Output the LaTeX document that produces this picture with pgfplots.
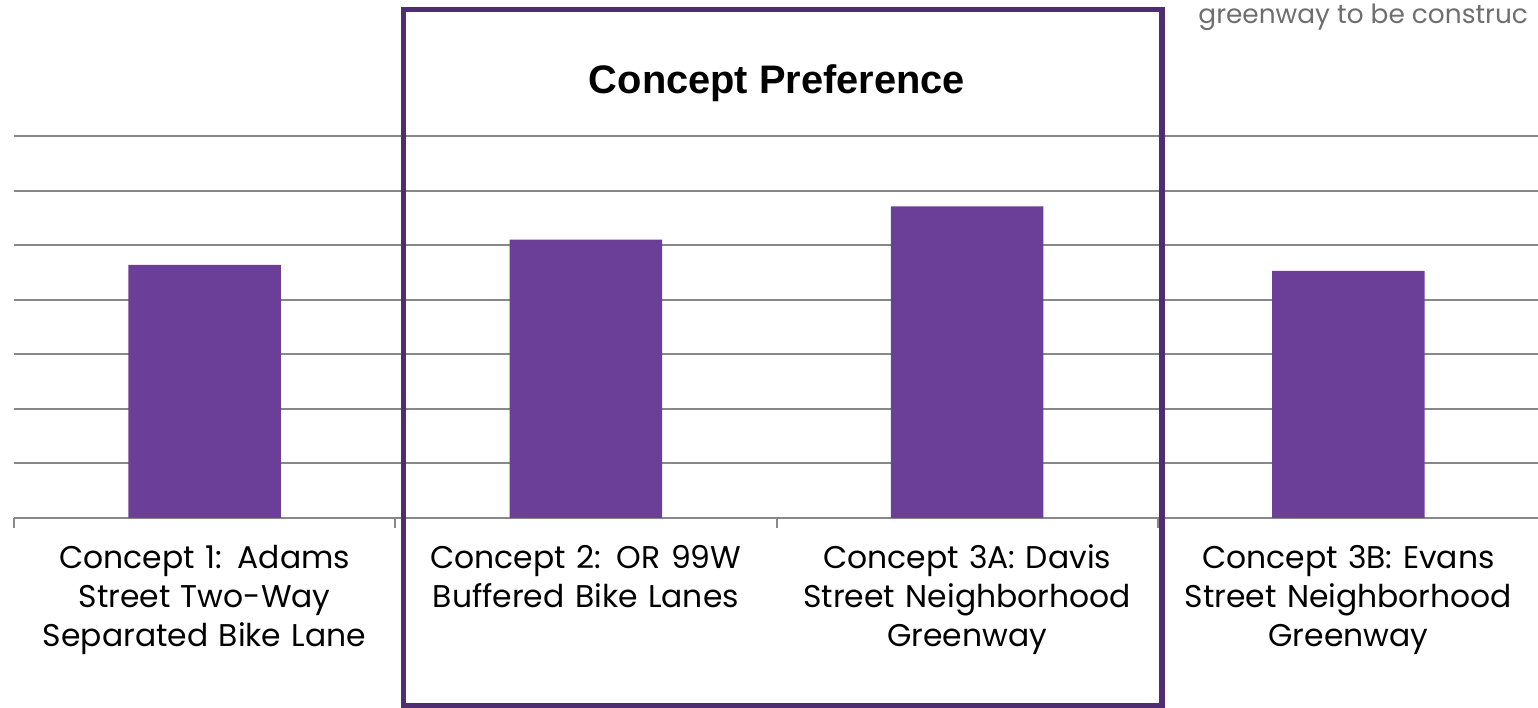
\documentclass[border=0pt]{standalone}
\usepackage{pgfplots}
\pgfplotsset{compat=1.18}
\usepackage{fontspec}
\setmainfont{Poppins}
\newfontfamily\titlefont{Liberation Sans}
\definecolor{barpurple}{HTML}{6B3F98}
\definecolor{boxpurple}{HTML}{4F2D73}
\definecolor{gridgray}{HTML}{888888}
\definecolor{notegray}{HTML}{6E6E6E}
\begin{document}
\begin{tikzpicture}
\useasboundingbox (0,0) rectangle (769bp,354bp);
\clip (0,0) rectangle (769bp,354bp);
\begin{axis}[
  at={(7bp,95bp)}, anchor=south west,
  scale only axis, width=762.5bp, height=191bp,
  xmin=-0.5, xmax=3.5, ymin=0, ymax=7,
  axis y line*=left,
  y axis line style={draw=none},
  axis x line*=bottom,
  x axis line style={gridgray, line width=1bp},
  ytick={1,2,3,4,5,6,7}, yticklabels={},
  y tick style={draw=none},
  ymajorgrids,
  major grid style={gridgray, line width=1bp},
  xtick={-0.5,0.5,1.5,2.5,3.5}, xticklabels={},
  tick align=outside,
  major tick length=5bp,
  x tick style={gridgray, line width=1bp},
  extra x ticks={0,1,2,3},
  extra x tick labels={{Concept 1: Adams\\Street Two-Way\\Separated Bike Lane},{Concept 2: OR 99W\\Buffered Bike Lanes},{Concept 3A: Davis\\Street Neighborhood\\Greenway},{Concept 3B: Evans\\Street Neighborhood\\Greenway}},
  extra x tick style={major tick length=0pt, xmajorgrids=false,
    tick label style={align=center, text width=180bp, anchor=north, yshift=-10bp,
      font=\fontsize{15.7bp}{19.5bp}\selectfont}},
]
\addplot[ybar, bar width=0.4, fill=barpurple, draw=none] coordinates {(0,4.64) (1,5.10) (2,5.71) (3,4.53)};
\end{axis}
\node[font=\titlefont\bfseries\fontsize{19.9bp}{23bp}\selectfont] at (388.5bp,312.5bp) {Concept Preference};
\node[anchor=west, inner sep=0pt, text=notegray, font=\fontsize{13.2bp}{15bp}\selectfont] at (599bp,345.5bp) {greenway to be construc};
\draw[boxpurple, line width=2.8bp] (201.75bp,349.25bp) rectangle (581bp,1bp);
\end{tikzpicture}
\end{document}
